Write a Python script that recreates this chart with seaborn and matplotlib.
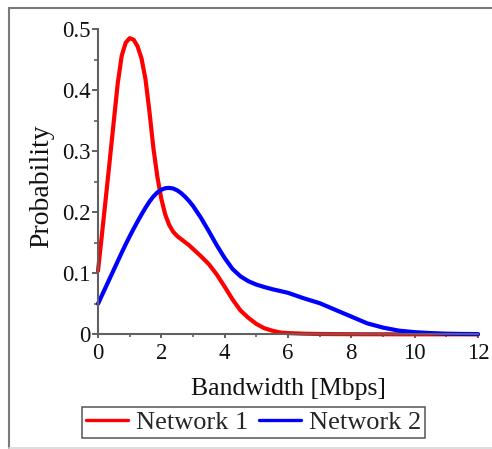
import matplotlib
matplotlib.use("Agg")
import matplotlib.pyplot as plt
import numpy as np
import pandas as pd
import seaborn as sns
from matplotlib.lines import Line2D
from matplotlib.ticker import MultipleLocator, FuncFormatter

# ---------------- data ----------------
bandwidth = [0, 0.125, 0.25, 0.375, 0.5, 0.625, 0.75, 0.875, 1.0, 1.125, 1.25, 1.375,
             1.5, 1.625, 1.75, 1.875, 2.0, 2.125, 2.25, 2.375, 2.5, 2.625, 2.75, 2.875,
             3.0, 3.25, 3.5, 3.75, 4.0, 4.25, 4.5, 4.75, 5.0, 5.25, 5.5, 5.75, 6.0,
             6.5, 7.0, 7.5, 8.0, 8.5, 9.0, 9.5, 10.0, 10.5, 11.0, 11.5, 12.0]

network1 = [0.104, 0.164, 0.225, 0.287, 0.350, 0.412, 0.457, 0.478, 0.4855, 0.483, 0.472, 0.452,
            0.418, 0.365, 0.305, 0.258, 0.222, 0.196, 0.179, 0.168, 0.161, 0.156, 0.151, 0.146,
            0.140, 0.128, 0.115, 0.098, 0.078, 0.057, 0.039, 0.027, 0.017, 0.010, 0.006, 0.003, 0.002,
            0.001, 0.0005, 0.0003, 0.0002, 0.0001, 0.0001, 0.0, 0.0, 0.0, 0.0, 0.0, 0.0]

network2 = [0.050, 0.064, 0.078, 0.092, 0.106, 0.120, 0.134, 0.1475, 0.1605, 0.173, 0.185, 0.1965,
            0.2075, 0.2175, 0.226, 0.2325, 0.237, 0.2395, 0.240, 0.239, 0.236, 0.2315, 0.2255, 0.2185,
            0.2105, 0.191, 0.169, 0.146, 0.125, 0.107, 0.095, 0.087, 0.0815, 0.0775, 0.074, 0.071, 0.068,
            0.059, 0.051, 0.040, 0.029, 0.018, 0.011, 0.006, 0.0035, 0.002, 0.001, 0.0006, 0.0004]

series_names = ["Network 1", "Network 2"]
series_colors = ["#ff0000", "#0000ff"]

x_ticks = [0, 2, 4, 6, 8, 10, 12]
y_ticks = [0, 0.1, 0.2, 0.3, 0.4, 0.5]

# ---------------- style ----------------
sns.set_style("ticks")
plt.rcParams["font.family"] = ["Liberation Serif", "DejaVu Serif"]

W, H = 492, 449
fig = plt.figure(figsize=(W / 100, H / 100), dpi=100)
fig.patch.set_facecolor("white")

ax_left, ax_right, ax_top, ax_bottom = 98, 478, 29.3, 334.3
ax = fig.add_axes([ax_left / W, 1 - ax_bottom / H,
                   (ax_right - ax_left) / W, (ax_bottom - ax_top) / H])

df = pd.DataFrame({
    "Bandwidth": bandwidth * 2,
    "Probability": network1 + network2,
    "Network": [series_names[0]] * len(bandwidth) + [series_names[1]] * len(bandwidth),
})

sns.lineplot(data=df, x="Bandwidth", y="Probability", hue="Network",
             palette=dict(zip(series_names, series_colors)), linewidth=3,
             errorbar=None, legend=False, ax=ax, clip_on=False,
             solid_joinstyle="round", solid_capstyle="round")

ax.set_xlim(0, 12)
ax.set_ylim(0, 0.5)
ax.set_xticks(x_ticks)
ax.set_yticks(y_ticks)
ax.xaxis.set_minor_locator(MultipleLocator(1))
ax.yaxis.set_minor_locator(MultipleLocator(0.05))
ax.yaxis.set_major_formatter(FuncFormatter(lambda v, p: "0" if abs(v) < 1e-9 else f"{v:g}"))
ax.xaxis.set_major_formatter(FuncFormatter(lambda v, p: f"{v:g}"))

spine_col = "#606060"
for s in ["top", "right"]:
    ax.spines[s].set_visible(False)
for s in ["left", "bottom"]:
    ax.spines[s].set_color(spine_col)
    ax.spines[s].set_linewidth(1.5)

ax.tick_params(axis="y", which="major", direction="out", length=4.5, width=1.4,
               color=spine_col, labelsize=16.5, pad=0.8, labelcolor="#111111")
ax.tick_params(axis="y", which="minor", direction="out", length=3, width=1.2, color=spine_col)
ax.tick_params(axis="x", which="major", direction="out", length=3, width=1.4,
               color=spine_col, labelsize=16.5, pad=3.5, labelcolor="#111111")
ax.tick_params(axis="x", which="minor", direction="out", length=2.5, width=1.2, color=spine_col)

ax.set_xlabel("Bandwidth [Mbps]", fontsize=18.5, va="baseline", color="#111111")
ax.xaxis.set_label_coords(0.5, (ax_bottom - 395) / (ax_bottom - ax_top))
ax.set_ylabel("Probability", fontsize=20, va="baseline", color="#111111")
ax.yaxis.set_label_coords((48 - ax_left) / (ax_right - ax_left),
                          (ax_bottom - 186) / (ax_bottom - ax_top))

handles = [Line2D([], [], color=c, linewidth=2.4) for c in series_colors]
leg = fig.legend(handles, series_names, loc="center",
                 bbox_to_anchor=(253.5 / W, 1 - 422.5 / H), ncol=2,
                 frameon=True, fancybox=False, edgecolor="#555555", framealpha=1,
                 fontsize=19, handlelength=1.6, handletextpad=0.3, columnspacing=0.4,
                 borderpad=0.15, borderaxespad=0)
leg.get_frame().set_linewidth(1.1)

# outer frame of the picture
def px_line(x0, y0, x1, y1, color, lw):
    fig.add_artist(Line2D([x0 / W, x1 / W], [1 - y0 / H, 1 - y1 / H],
                          transform=fig.transFigure, color=color, linewidth=lw))

px_line(9, 8, 9, 448, "#7a7a7a", 1.5)
px_line(9, 8, 492, 8, "#7a7a7a", 1.5)
px_line(9, 448, 492, 448, "#d8d8d8", 1.2)

fig.savefig("out.png", dpi=100)
